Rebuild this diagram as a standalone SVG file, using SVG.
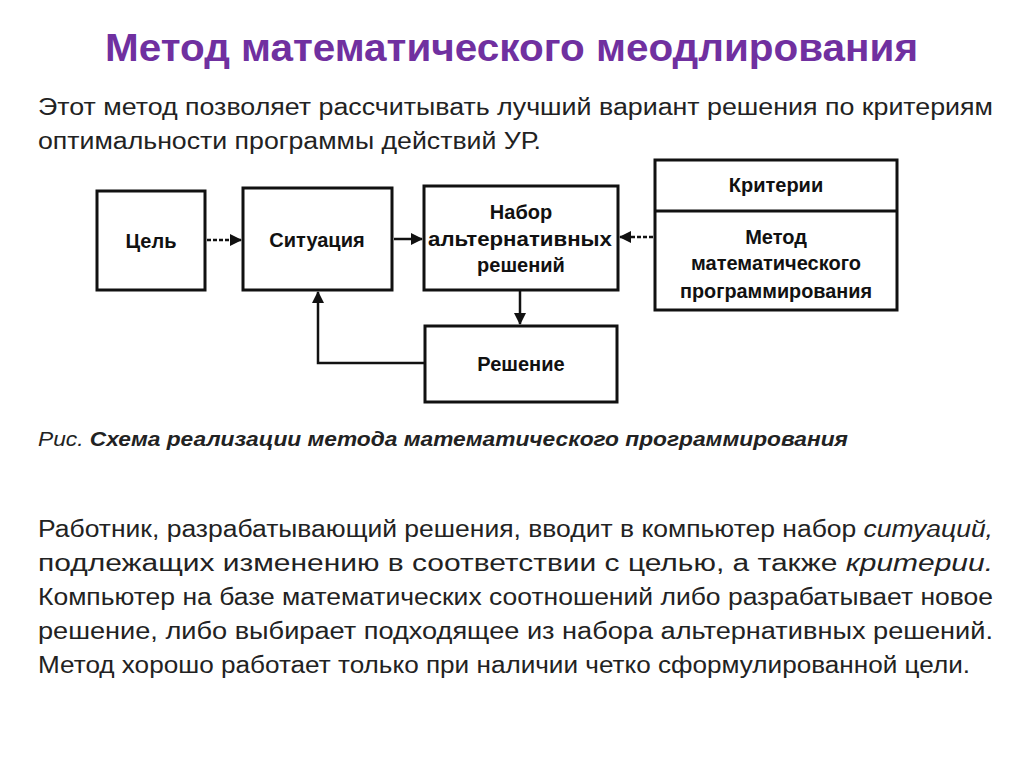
<svg xmlns="http://www.w3.org/2000/svg" width="1024" height="767" viewBox="0 0 1024 767">
<style>
.t{font-family:"Liberation Sans",Arial,sans-serif;fill:#222}
.b{fill:#fff;stroke:#111;stroke-width:3}
.n{font-family:"Liberation Sans",Arial,sans-serif;font-weight:bold;font-size:20px;fill:#111;text-anchor:middle}
.c{fill:none;stroke:#111;stroke-width:2.5}
</style>
<defs><marker id="a" markerWidth="12" markerHeight="12" refX="11" refY="6" orient="auto" markerUnits="userSpaceOnUse"><path d="M0,0L12,6L0,12z" fill="#111"/></marker></defs>
<rect width="1024" height="767" fill="#fff"/>
<text x="105" y="61" textLength="813" lengthAdjust="spacingAndGlyphs" style="font-family:'Liberation Sans',Arial,sans-serif;font-weight:bold;font-size:38px;fill:#7030A0">Метод математического меодлирования</text>
<text class="t" font-size="23" x="38" y="115" textLength="955" lengthAdjust="spacingAndGlyphs">Этот метод позволяет рассчитывать лучший вариант решения по критериям</text>
<text class="t" font-size="23" x="38" y="149" textLength="503" lengthAdjust="spacingAndGlyphs">оптимальности  программы  действий УР.</text>
<g id="cel"><rect class="b" x="97" y="191" width="108" height="99"/><text class="n" x="151" y="248">Цель</text></g>
<g id="sit"><rect class="b" x="243" y="188" width="149" height="102"/><text class="n" x="317" y="247">Ситуация</text></g>
<g id="nab"><rect class="b" x="424" y="186" width="194" height="104"/><text class="n" x="521" y="219">Набор</text><text class="n" x="520" y="246" textLength="184" lengthAdjust="spacingAndGlyphs">альтернативных</text><text class="n" x="521" y="272">решений</text></g>
<g id="krit"><rect class="b" x="655" y="160" width="242" height="150"/><line x1="655" y1="211" x2="897" y2="211" stroke="#111" stroke-width="3"/><text class="n" x="776" y="192">Критерии</text><text class="n" x="776" y="244">Метод</text><text class="n" x="776" y="270">математического</text><text class="n" x="776" y="298" textLength="192" lengthAdjust="spacingAndGlyphs">программирования</text></g>
<g id="resh"><rect class="b" x="425" y="326" width="192" height="76"/><text class="n" x="521" y="371">Решение</text></g>
<g id="conn">
<path class="c" d="M207,240H241" stroke-dasharray="4 2" marker-end="url(#a)"/>
<path class="c" d="M394,239H422" marker-end="url(#a)"/>
<path class="c" d="M653,237H620" stroke-dasharray="4 2" marker-end="url(#a)"/>
<path class="c" d="M520,291V324" marker-end="url(#a)"/>
<path class="c" d="M425,363H318V292" marker-end="url(#a)"/>
</g>
<text x="38" y="446" font-size="20" class="t" font-style="italic" textLength="810" lengthAdjust="spacingAndGlyphs">Рис.  <tspan font-weight="bold">Схема реализации метода математического программирования</tspan></text>
<g class="t" font-size="23">
<text x="38" y="537" textLength="955" lengthAdjust="spacingAndGlyphs">Работник, разрабатывающий решения, вводит в компьютер набор <tspan font-style="italic">ситуаций,</tspan></text>
<text x="38" y="571" textLength="955" lengthAdjust="spacingAndGlyphs">подлежащих  изменению  в  соответствии  с  целью,  а  также  <tspan font-style="italic">критерии.</tspan></text>
<text x="38" y="605" textLength="955" lengthAdjust="spacingAndGlyphs">Компьютер на базе математических соотношений либо разрабатывает новое</text>
<text x="38" y="639" textLength="955" lengthAdjust="spacingAndGlyphs">решение,  либо  выбирает  подходящее  из  набора  альтернативных  решений.</text>
<text x="38" y="673" textLength="932" lengthAdjust="spacingAndGlyphs">Метод хорошо работает только при наличии четко сформулированной цели.</text>
</g>
</svg>
